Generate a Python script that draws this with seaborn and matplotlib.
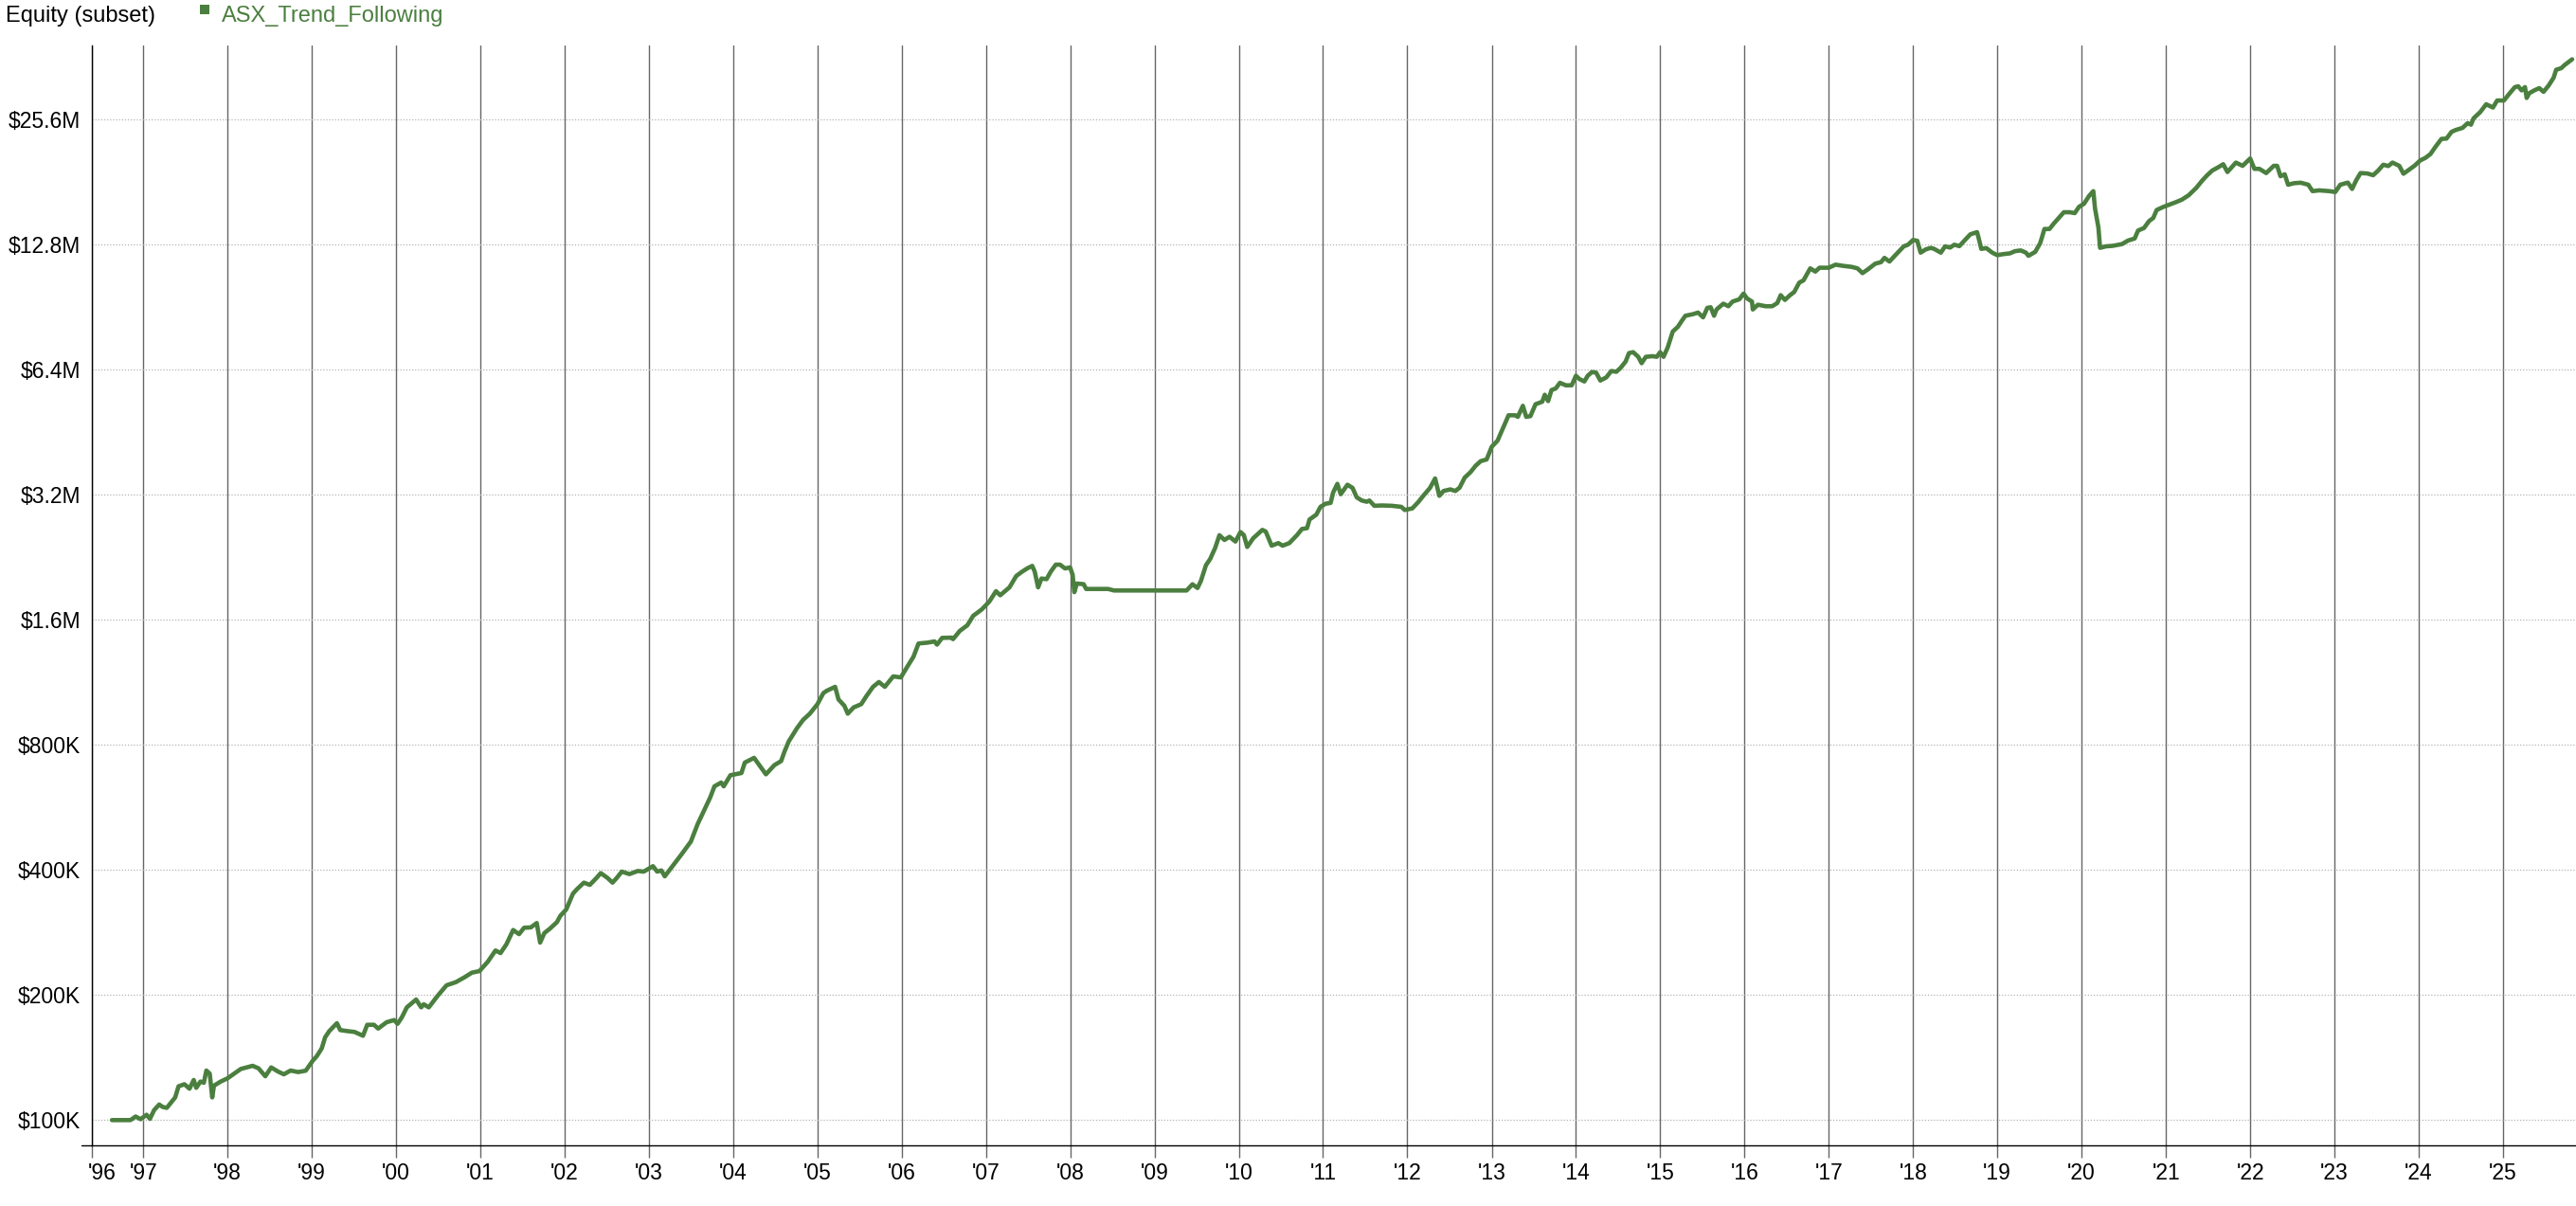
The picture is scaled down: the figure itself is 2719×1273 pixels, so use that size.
import numpy as np
import pandas as pd
import matplotlib
matplotlib.use("Agg")
import matplotlib.pyplot as plt
import matplotlib.transforms as mtransforms
from matplotlib.lines import Line2D
from matplotlib.patches import Rectangle
from matplotlib.ticker import NullLocator
import seaborn as sns

# ---------------- data ----------------
chart_title = "Equity (subset)"
series_name = "ASX_Trend_Following"

# decimal years of sampled points
years = [
    1996.63, 1996.85, 1996.91, 1996.97, 1997.04, 1997.08, 1997.13, 1997.19, 1997.23, 1997.28,
    1997.38, 1997.42, 1997.49, 1997.55, 1997.60, 1997.63, 1997.68, 1997.72, 1997.75, 1997.79,
    1997.82, 1997.84, 1997.92, 1998.00, 1998.07, 1998.16, 1998.30, 1998.37, 1998.45, 1998.52,
    1998.60, 1998.67, 1998.75, 1998.84, 1998.93, 1999.01, 1999.06, 1999.12, 1999.16, 1999.21,
    1999.30, 1999.34, 1999.42, 1999.51, 1999.61, 1999.66, 1999.74, 1999.79, 1999.89, 1999.98,
    2000.02, 2000.07, 2000.13, 2000.24, 2000.30, 2000.33, 2000.39, 2000.49, 2000.60, 2000.71,
    2000.81, 2000.90, 2000.99, 2001.09, 2001.18, 2001.24, 2001.31, 2001.39, 2001.46, 2001.52,
    2001.60, 2001.67, 2001.71, 2001.76, 2001.83, 2001.91, 2001.95, 2002.02, 2002.10, 2002.15,
    2002.23, 2002.30, 2002.38, 2002.43, 2002.51, 2002.57, 2002.62, 2002.68, 2002.77, 2002.87,
    2002.94, 2003.05, 2003.10, 2003.15, 2003.19, 2003.29, 2003.39, 2003.50, 2003.58, 2003.65,
    2003.73, 2003.78, 2003.86, 2003.89, 2003.97, 2004.10, 2004.14, 2004.25, 2004.33, 2004.39,
    2004.49, 2004.57, 2004.61, 2004.66, 2004.76, 2004.83, 2004.91, 2005.00, 2005.07, 2005.11,
    2005.21, 2005.25, 2005.32, 2005.36, 2005.43, 2005.52, 2005.58, 2005.66, 2005.73, 2005.80,
    2005.90, 2005.99, 2006.07, 2006.14, 2006.20, 2006.31, 2006.39, 2006.42, 2006.48, 2006.59,
    2006.61, 2006.69, 2006.78, 2006.85, 2006.95, 2007.04, 2007.12, 2007.17, 2007.28, 2007.36,
    2007.43, 2007.49, 2007.55, 2007.58, 2007.62, 2007.66, 2007.72, 2007.77, 2007.83, 2007.88,
    2007.94, 2008.00, 2008.03, 2008.05, 2008.08, 2008.16, 2008.19, 2008.45, 2008.52, 2009.38,
    2009.45, 2009.51, 2009.55, 2009.61, 2009.66, 2009.72, 2009.77, 2009.83, 2009.89, 2009.96,
    2010.02, 2010.06, 2010.10, 2010.17, 2010.28, 2010.32, 2010.39, 2010.47, 2010.52, 2010.60,
    2010.69, 2010.75, 2010.81, 2010.84, 2010.92, 2010.97, 2011.03, 2011.09, 2011.12, 2011.17,
    2011.21, 2011.29, 2011.35, 2011.40, 2011.46, 2011.52, 2011.55, 2011.61, 2011.70, 2011.82,
    2011.93, 2011.97, 2012.06, 2012.13, 2012.19, 2012.27, 2012.33, 2012.38, 2012.43, 2012.51,
    2012.57, 2012.62, 2012.68, 2012.75, 2012.81, 2012.87, 2012.94, 2013.00, 2013.07, 2013.11,
    2013.16, 2013.20, 2013.28, 2013.31, 2013.37, 2013.41, 2013.46, 2013.52, 2013.60, 2013.63,
    2013.67, 2013.71, 2013.76, 2013.81, 2013.88, 2013.95, 2014.00, 2014.04, 2014.10, 2014.14,
    2014.19, 2014.24, 2014.29, 2014.36, 2014.42, 2014.48, 2014.53, 2014.59, 2014.63, 2014.68,
    2014.74, 2014.78, 2014.83, 2014.91, 2014.96, 2015.00, 2015.04, 2015.09, 2015.15, 2015.21,
    2015.26, 2015.30, 2015.39, 2015.45, 2015.51, 2015.56, 2015.60, 2015.64, 2015.67, 2015.75,
    2015.81, 2015.86, 2015.94, 2015.99, 2016.03, 2016.09, 2016.10, 2016.16, 2016.25, 2016.33,
    2016.39, 2016.43, 2016.48, 2016.54, 2016.59, 2016.65, 2016.70, 2016.78, 2016.84, 2016.89,
    2017.00, 2017.08, 2017.17, 2017.27, 2017.34, 2017.40, 2017.47, 2017.55, 2017.62, 2017.66,
    2017.72, 2017.79, 2017.89, 2017.94, 2018.00, 2018.05, 2018.09, 2018.15, 2018.21, 2018.25,
    2018.33, 2018.38, 2018.44, 2018.49, 2018.55, 2018.61, 2018.68, 2018.76, 2018.78, 2018.81,
    2018.87, 2018.94, 2019.00, 2019.07, 2019.15, 2019.21, 2019.28, 2019.34, 2019.37, 2019.45,
    2019.51, 2019.56, 2019.62, 2019.67, 2019.73, 2019.79, 2019.86, 2019.92, 2019.97, 2020.03,
    2020.09, 2020.14, 2020.16, 2020.20, 2020.22, 2020.29, 2020.37, 2020.48, 2020.55, 2020.63,
    2020.67, 2020.74, 2020.80, 2020.85, 2020.89, 2020.97, 2021.04, 2021.12, 2021.19, 2021.27,
    2021.36, 2021.43, 2021.49, 2021.55, 2021.62, 2021.68, 2021.73, 2021.83, 2021.91, 2022.00,
    2022.05, 2022.11, 2022.19, 2022.28, 2022.32, 2022.36, 2022.41, 2022.45, 2022.52, 2022.60,
    2022.69, 2022.74, 2022.82, 2022.94, 2023.01, 2023.07, 2023.16, 2023.21, 2023.26, 2023.31,
    2023.39, 2023.46, 2023.52, 2023.58, 2023.64, 2023.69, 2023.77, 2023.82, 2023.90, 2023.95,
    2024.02, 2024.08, 2024.14, 2024.20, 2024.27, 2024.33, 2024.39, 2024.44, 2024.52, 2024.58,
    2024.62, 2024.65, 2024.73, 2024.80, 2024.88, 2024.93, 2025.01, 2025.07, 2025.14, 2025.18,
    2025.22, 2025.26, 2025.28, 2025.31, 2025.37, 2025.43, 2025.48, 2025.54, 2025.60, 2025.63,
    2025.69, 2025.73, 2025.78, 2025.82,
]

# equity in thousands of dollars
equity_k = [
    100, 100, 102, 100.5, 103, 100.7, 105.7, 109, 107.6, 107,
    113.4, 120.6, 122, 119, 124.9, 119.6, 123.8, 123, 131.6, 129.4,
    113.4, 121, 123.8, 126, 128.9, 132.8, 135.1, 133.2, 127.5, 133.9,
    130.9, 128.9, 131.6, 130.5, 131.5, 138.7, 142.4, 148.8, 158.2, 163.8,
    171.1, 164.7, 163.8, 163, 159.6, 169.6, 169.6, 166.1, 172, 174.1,
    170.5, 176.6, 186.8, 195.1, 186.8, 190, 186.8, 198.6, 211.1, 214.8,
    220.5, 226.4, 228.4, 240.7, 256, 252.4, 265, 286.8, 280.3, 290.4,
    291, 298.1, 267.4, 281.9, 289.4, 299.6, 310.2, 321.3, 350.9, 360,
    372.9, 368.3, 382.8, 393.1, 382.8, 372.9, 382.8, 396.4, 391, 397.8,
    396.4, 408.5, 396.4, 399, 386.2, 410.7, 436.5, 468.3, 515.6, 552.9,
    598.2, 636, 649.5, 636, 676.5, 684.5, 725.4, 744.6, 706.7, 679.8,
    715.1, 731.6, 771.1, 815.7, 879.2, 918.9, 951.4, 1002.8, 1066, 1080,
    1104, 1029.5, 993.9, 951.4, 985, 1002.8, 1047.6, 1104, 1133.7, 1104,
    1169.7, 1163, 1237, 1304, 1403.7, 1410.6, 1420, 1395, 1447.9, 1450,
    1438, 1505, 1553, 1637, 1694.6, 1770, 1876, 1834, 1916, 2040,
    2090, 2128, 2158, 2090, 1916, 2012, 2005, 2090, 2173, 2173,
    2128, 2140, 2054, 1866, 1957, 1950, 1899, 1899, 1883, 1883,
    1949, 1909, 1985, 2166, 2242, 2386, 2558, 2492, 2536, 2470,
    2603, 2560, 2397, 2514, 2635, 2610, 2414, 2449, 2414, 2449,
    2558, 2648, 2660, 2791, 2866, 2994, 3046, 3060, 3240, 3401,
    3211, 3384, 3326, 3156, 3101, 3080, 3101, 3011, 3017, 3011,
    2994, 2942, 2968, 3073, 3183, 3326, 3504, 3183, 3269, 3298,
    3269, 3330, 3520, 3630, 3760, 3857, 3893, 4175, 4322, 4515,
    4760, 4973, 4973, 4930, 5241, 4930, 4950, 5287, 5361, 5572,
    5380, 5719, 5769, 5954, 5872, 5872, 6190, 6082, 5999, 6190,
    6320, 6300, 6029, 6134, 6355, 6330, 6466, 6697, 7020, 7056,
    6876, 6638, 6876, 6900, 6876, 7056, 6876, 7245, 7912, 8119,
    8410, 8634, 8710, 8787, 8559, 9020, 9050, 8634, 8941, 9231,
    9103, 9340, 9457, 9762, 9510, 9340, 8941, 9178, 9103, 9103,
    9263, 9676, 9425, 9676, 9848, 10375, 10505, 11228, 11029, 11267,
    11267, 11462, 11383, 11321, 11228, 10937, 11190, 11520, 11622, 11900,
    11662, 12080, 12685, 12800, 13140, 13080, 12250, 12470, 12580, 12508,
    12250, 12685, 12600, 12800, 12700, 13096, 13558, 13725, 13251, 12508,
    12560, 12250, 12080, 12150, 12200, 12350, 12400, 12250, 12037, 12300,
    12915, 13967, 13967, 14386, 14850, 15324, 15324, 15250, 15787, 16064,
    16778, 17227, 15645, 14090, 12580, 12685, 12720, 12845, 13096, 13251,
    13846, 14040, 14590, 14850, 15515, 15787, 15984, 16210, 16436, 16840,
    17540, 18260, 18815, 19310, 19660, 20000, 19150, 20180, 19820, 20640,
    19490, 19490, 19040, 19820, 19820, 18710, 18910, 17850, 18000, 18050,
    17850, 17227, 17300, 17227, 17140, 17850, 18060, 17440, 18310, 19040,
    19000, 18815, 19310, 19940, 19800, 20180, 19820, 18970, 19490, 19820,
    20430, 20710, 21160, 22030, 23010, 23050, 23930, 24180, 24460, 25110,
    24900, 25780, 26710, 27880, 27380, 28470, 28470, 29490, 30660, 30800,
    30110, 30660, 28870, 29630, 30110, 30490, 29870, 30920, 32300, 33760,
    34050, 34650, 35270, 35770,
]

y_tick_values_k = [100, 200, 400, 800, 1600, 3200, 6400, 12800, 25600]
y_tick_labels = ["$100K", "$200K", "$400K", "$800K", "$1.6M", "$3.2M", "$6.4M", "$12.8M", "$25.6M"]

x_tick_years = [1997, 1998, 1999, 2000, 2001, 2002, 2003, 2004, 2005, 2006, 2007, 2008, 2009,
                2010, 2011, 2012, 2013, 2014, 2015, 2016, 2017, 2018, 2019, 2020, 2021, 2022,
                2023, 2024, 2025]
x_tick_labels = ["'96", "'97", "'98", "'99", "'00", "'01", "'02", "'03", "'04", "'05", "'06",
                 "'07", "'08", "'09", "'10", "'11", "'12", "'13", "'14", "'15", "'16", "'17",
                 "'18", "'19", "'20", "'21", "'22", "'23", "'24", "'25"]

x_start = pd.Timestamp("1996-05-25")
x_end = pd.Timestamp("2025-11-13")


def year_to_date(y):
    yr = int(np.floor(y))
    start = pd.Timestamp(year=yr, month=1, day=1)
    end = pd.Timestamp(year=yr + 1, month=1, day=1)
    return start + (end - start) * (y - yr)


df = pd.DataFrame({
    "date": [year_to_date(y) for y in years],
    "equity": np.array(equity_k, dtype=float) * 1000.0,
    "series": series_name,
})

# ---------------- style ----------------
GREEN = "#4b7f3f"
W, H = 2719, 1273

sns.set_theme(style="white")
plt.rcParams["font.family"] = ["Liberation Sans", "DejaVu Sans"]

fig = plt.figure(figsize=(W / 100, H / 100), dpi=100)
ax_left, ax_right, ax_top, ax_bottom = 97.3, 2719.0, 48.3, 1209.3
ax = fig.add_axes([ax_left / W, (H - ax_bottom) / H, (ax_right - ax_left) / W, (ax_bottom - ax_top) / H])

sns.lineplot(data=df, x="date", y="equity", color=GREEN, linewidth=3.3,
             ax=ax, legend=False, zorder=3, estimator=None)

ax.set_yscale("log", base=2)
ax.set_ylim(86790, 38.56e6)
ax.set_xlim(x_start, x_end)

ax.set_yticks([v * 1000 for v in y_tick_values_k])
ax.set_yticklabels(y_tick_labels)
ax.yaxis.set_minor_locator(NullLocator())

tick_dates = [x_start] + [pd.Timestamp(year=y, month=1, day=1) for y in x_tick_years]
ax.set_xticks(tick_dates)
ax.set_xticklabels(x_tick_labels)
ax.xaxis.set_minor_locator(NullLocator())

ax.set_xlabel("")
ax.set_ylabel("")

ax.tick_params(axis="x", bottom=True, length=9.4, width=1.0, color="#666666",
               pad=3.6, labelsize=16.5, labelcolor="black")
ax.tick_params(axis="y", left=False, length=0, pad=8.9, labelsize=16.5, labelcolor="black")

ax.grid(axis="x", color="#666666", linewidth=1.0, linestyle="-")
ax.grid(axis="y", color="#b4b4b4", linewidth=0.9, linestyle=(0, (1, 1.5)))
ax.set_axisbelow(True)

for s in ["top", "right"]:
    ax.spines[s].set_visible(False)
for s in ["left", "bottom"]:
    ax.spines[s].set_visible(True)
    ax.spines[s].set_color("black")
    ax.spines[s].set_linewidth(1.0)

# small extension of the x axis line to the left of the y axis
fig.add_artist(Line2D([86 / W, ax_left / W], [(H - ax_bottom) / H] * 2,
                      color="black", linewidth=1.0, transform=fig.transFigure))

# shift the first ('96) label slightly right
lbl0 = ax.get_xticklabels()[0]
lbl0.set_transform(lbl0.get_transform() + mtransforms.ScaledTranslation(10 / 100, 0, fig.dpi_scale_trans))

# title and legend
baseline = 1 - 22.7 / H
fig.text(5.7 / W, baseline, chart_title, fontsize=17, color="black", ha="left", va="baseline")
fig.add_artist(Rectangle((210.5 / W, 1 - 14.5 / H), 10.5 / W, 9.5 / H,
                         facecolor=GREEN, edgecolor="none", transform=fig.transFigure))
fig.text(234 / W, baseline, series_name, fontsize=17, color=GREEN, ha="left", va="baseline")

fig.savefig("out.png", dpi=100)
